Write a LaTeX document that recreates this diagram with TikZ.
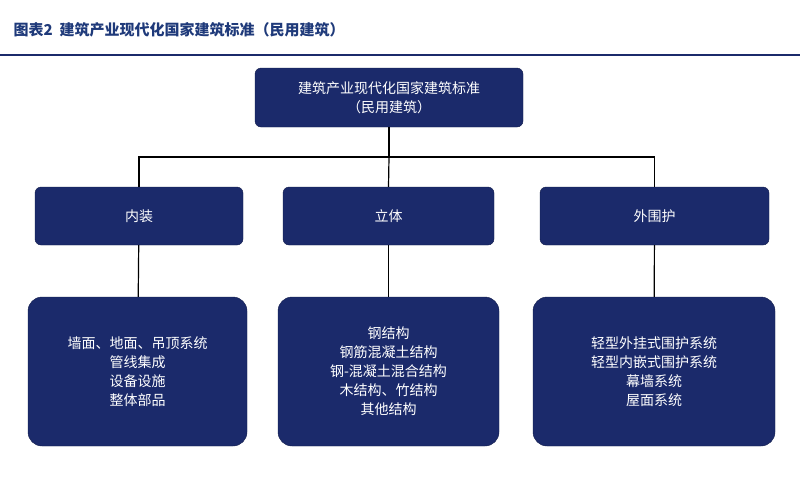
\documentclass[tikz,border=0pt]{standalone}
\usepackage{fontspec}
\setmainfont{Noto Sans CJK SC}
\newfontfamily\cjk{Noto Sans CJK SC}
\usetikzlibrary{positioning}
\definecolor{navy}{HTML}{1B2A6B}
\definecolor{titleblue}{HTML}{1F3A7A}
\tikzset{
  topbox/.style={draw=navy!70!black,fill=navy,rounded corners=6pt,text=white,minimum width=268pt,minimum height=59pt,align=center,font=\cjk\fontsize{14}{19}\selectfont},
  midbox/.style={draw=navy!70!black,fill=navy,rounded corners=6pt,text=white,minimum height=58pt,align=center,font=\cjk\fontsize{14}{19}\selectfont},
  lowbox/.style={draw=navy!70!black,fill=navy,rounded corners=14pt,text=white,minimum height=149pt,align=center,font=\cjk\fontsize{14}{19}\selectfont},
  link/.style={draw=black,line width=1.2pt}
}
\begin{document}
\begin{tikzpicture}[x=1pt,y=-1pt]
	\useasboundingbox (0,0) rectangle (800,496);
	\node[anchor=west,text=titleblue,font=\cjk\bfseries\fontsize{15}{18}\selectfont] (title) at (10,30) {图表2\ \ 建筑产业现代化国家建筑标准（民用建筑）};
	\draw[navy,line width=1.2pt] (0,55) -- (800,55);
	\node[topbox] (std) at (389,97.5) {建筑产业现代化国家建筑标准\\（民用建筑）};
	\node[midbox,minimum width=208pt] (inner) at (139,216) {内装};
	\node[midbox,minimum width=211pt] (body) at (388.5,216) {立体};
	\node[midbox,minimum width=229pt] (outer) at (654.5,216) {外围护};
	\node[lowbox,minimum width=219pt] (innerlist) at (137.5,371.5) {墙面、地面、吊顶系统\\管线集成\\设备设施\\整体部品};
	\node[lowbox,minimum width=221pt] (bodylist) at (388.5,371.5) {钢结构\\钢筋混凝土结构\\钢-混凝土混合结构\\木结构、竹结构\\其他结构};
	\node[lowbox,minimum width=242pt] (outerlist) at (654,371.5) {轻型外挂式围护系统\\轻型内嵌式围护系统\\幕墙系统\\屋面系统};
	\coordinate (split) at (389,157);
	\draw[link] (std.south) -- (split);
	\draw[link] (inner.north) |- (split) -| (outer.north);
	\draw[link] (split) -- (body.north);
	\draw[link] (inner) -- (innerlist);
	\draw[link] (body) -- (bodylist);
	\draw[link] (outer) -- (outerlist);
\end{tikzpicture}
\end{document}
